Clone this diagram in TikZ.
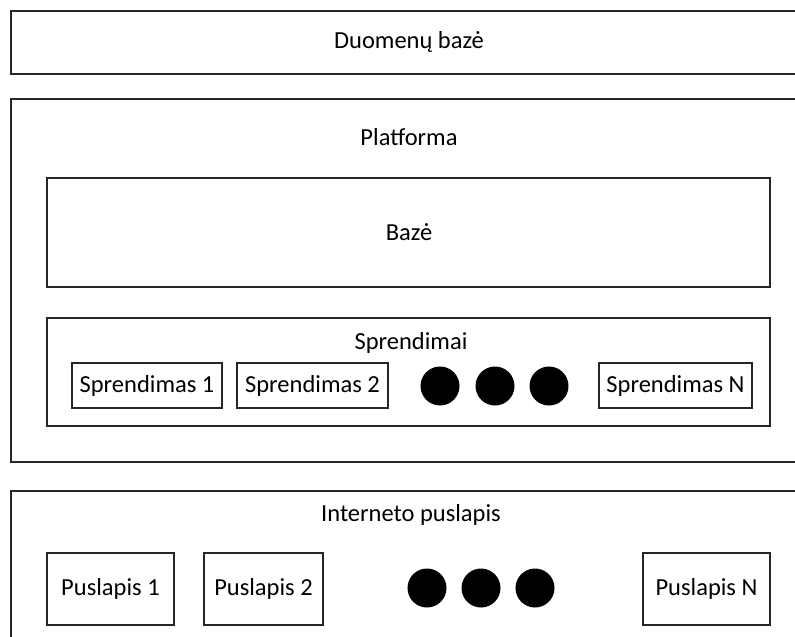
\documentclass[tikz,border=0pt]{standalone}
\usepackage{fontspec}
\setmainfont{Carlito}
\begin{document}
\begin{tikzpicture}[x=1pt,y=-1pt,
  frame/.style={draw=black!85, line width=1.5pt, inner sep=0pt, outer sep=0pt, anchor=north west},
  smallbox/.style={draw=black!85, line width=1.3pt, inner sep=0pt, outer sep=0pt, anchor=north west},
  caption/.style={inner sep=0pt, font=\fontsize{24.5}{28}\selectfont},
  bigdot/.style={circle, fill=black, inner sep=0pt, minimum size=39pt}]
\useasboundingbox (0,0) rectangle (795,637);
\begin{scope}
\clip (0,0) rectangle (795,637);
% database
\node[frame, minimum width=820pt, minimum height=63pt] (db) at (11,11) {};
\node[caption] (dblabel) at (409,42) {Duomenų bazė};
% platform
\node[frame, minimum width=820pt, minimum height=363pt] (plat) at (11,99) {};
\node[caption] (platlabel) at (409,137) {Platforma};
\node[frame, minimum width=723pt, minimum height=109pt] (base) at (47,178) {};
\node[caption] (baselabel) at (409,232) {Bazė};
\node[frame, minimum width=723pt, minimum height=108pt] (sol) at (47,318) {};
\node[caption] (sollabel) at (411,343) {Sprendimai};
\node[smallbox, minimum width=150pt, minimum height=45pt] (s1) at (72,363) {};
\node[caption] at (s1.center) {Sprendimas 1};
\node[smallbox, minimum width=151pt, minimum height=45pt] (s2) at (237,363) {};
\node[caption] at (s2.center) {Sprendimas 2};
\node[bigdot] (sd1) at (440,386) {};
\node[bigdot] (sd2) at (495,386) {};
\node[bigdot] (sd3) at (549,386) {};
\node[smallbox, minimum width=153pt, minimum height=45pt] (sn) at (599,363) {};
\node[caption] at (sn.center) {Sprendimas N};
% web site
\node[frame, minimum width=820pt, minimum height=200pt] (web) at (11,491) {};
\node[caption] (weblabel) at (411,515) {Interneto puslapis};
\node[smallbox, minimum width=127pt, minimum height=72pt] (p1) at (47,553) {};
\node[caption] at (p1.center) {Puslapis 1};
\node[smallbox, minimum width=119pt, minimum height=72pt] (p2) at (204,553) {};
\node[caption] at (p2.center) {Puslapis 2};
\node[bigdot] (pd1) at (427,588) {};
\node[bigdot] (pd2) at (481,588) {};
\node[bigdot] (pd3) at (535,588) {};
\node[smallbox, minimum width=127pt, minimum height=72pt] (pn) at (643,553) {};
\node[caption] at (pn.center) {Puslapis N};
\end{scope}
\end{tikzpicture}
\end{document}
